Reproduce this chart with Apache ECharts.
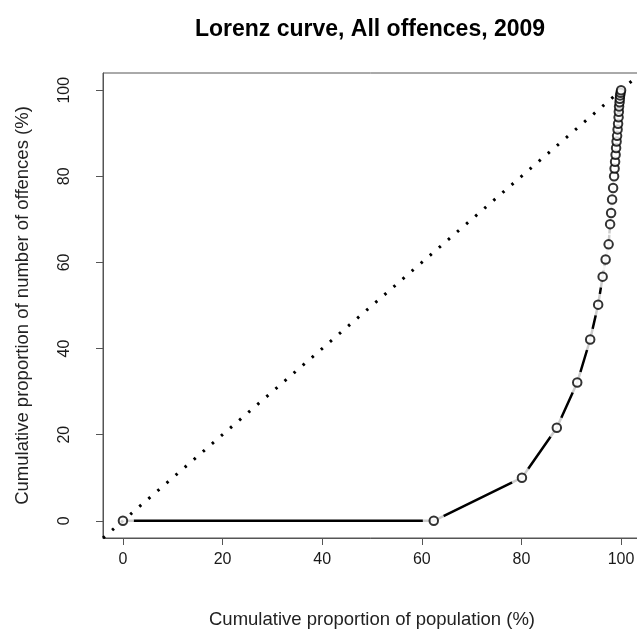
<!DOCTYPE html>
<html><head><meta charset="utf-8">
<script src="https://cdn.jsdelivr.net/npm/echarts@6/dist/echarts.min.js"></script>
<style>html,body{margin:0;padding:0;background:#fff}#c{width:637px;height:631px}</style>
</head><body><div id="c"></div>
<script>
// Cumulative proportion of population (%)
var popPct = [0, 62.4, 80.1, 87.1, 91.2, 93.8, 95.4, 96.3, 96.9, 97.5, 97.8, 98.0, 98.2, 98.4, 98.6, 98.7, 98.8, 98.9, 99.0, 99.1, 99.2, 99.3, 99.4, 99.5, 99.55, 99.6, 99.7, 99.75, 99.8, 99.9, 100];
// Cumulative proportion of number of offences (%)
var offPct = [0, 0, 10.0, 21.6, 32.1, 42.1, 50.2, 56.7, 60.7, 64.2, 68.9, 71.5, 74.6, 77.3, 80.0, 81.8, 83.4, 85.0, 86.6, 88.1, 89.4, 90.9, 92.2, 93.7, 95.0, 96.2, 97.2, 98.0, 98.8, 99.4, 100];
var tickVals = [0, 20, 40, 60, 80, 100];
var diagX = [-4, 104];

var pts = popPct.map(function (x, i) { return [x, offPct[i]]; });
var diag = diagX.map(function (v) { return [v, v]; });

var font = '"Liberation Sans", Arial, sans-serif';
var chart = echarts.init(document.getElementById('c'), null, {renderer: 'canvas'});
chart.setOption({
  animation: false,
  backgroundColor: '#fff',
  title: {
    text: 'Lorenz curve, All offences, 2009',
    left: 365, top: 13, textAlign: 'center',
    textStyle: {fontFamily: font, fontWeight: 'bold', fontSize: 23, color: '#000'}
  },
  grid: {left: 103, top: 73, width: 538, height: 465, outerBoundsMode: 'none', containLabel: false,
         show: true, borderColor: '#555', borderWidth: 1, backgroundColor: 'transparent'},
  xAxis: {
    type: 'value', min: -4, max: 104,
    name: 'Cumulative proportion of population (%)', nameLocation: 'middle', nameGap: 72,
    nameTextStyle: {fontFamily: font, fontSize: 18.5, color: '#222'},
    axisLine: {show: true, onZero: false, lineStyle: {color: '#555', width: 1}},
    axisTick: {show: true, length: 7, customValues: tickVals, lineStyle: {color: '#555'}},
    axisLabel: {customValues: tickVals, margin: 14, fontFamily: font, fontSize: 16, color: '#1a1a1a'},
    splitLine: {show: false}
  },
  yAxis: {
    type: 'value', min: -4, max: 104,
    name: 'Cumulative proportion of number of offences (%)', nameLocation: 'middle', nameGap: 71,
    nameTextStyle: {fontFamily: font, fontSize: 18.5, color: '#222'},
    axisLine: {show: true, onZero: false, lineStyle: {color: '#555', width: 1}},
    axisTick: {show: true, length: 7, customValues: tickVals, lineStyle: {color: '#555'}},
    axisLabel: {customValues: tickVals, rotate: 90, margin: 30, fontFamily: font, fontSize: 16, color: '#1a1a1a', align: 'center', verticalAlign: 'bottom'},
    splitLine: {show: false}
  },
  series: [
    {type: 'line', data: pts, symbol: 'none', lineStyle: {color: '#000', width: 2.5}, z: 1, silent: true},
    {type: 'scatter', data: pts, symbol: 'circle', symbolSize: 22, itemStyle: {color: '#fff', borderWidth: 0}, z: 2, silent: true},
    {type: 'line', data: diag, symbol: 'none', lineStyle: {color: '#000', width: 3, type: [2.5, 9.5], cap: 'butt'}, z: 3, silent: true},
    {type: 'scatter', data: pts, symbol: 'circle', symbolSize: 8.5, itemStyle: {color: '#fff', borderColor: '#000', borderWidth: 2}, z: 4, silent: true}
  ]
});
</script></body></html>
